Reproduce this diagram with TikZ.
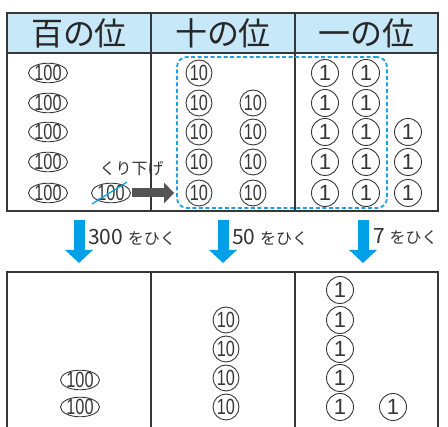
\documentclass[tikz,border=0pt]{standalone}
\usepackage{fontspec}
\setmainfont{Liberation Sans}
\newfontfamily\cjk{Noto Sans CJK JP}
\usetikzlibrary{arrows.meta,shapes.geometric}
\definecolor{hdrblue}{RGB}{199,232,248}
\definecolor{cyanb}{RGB}{0,160,233}
\definecolor{dashb}{RGB}{30,160,225}
\definecolor{lineg}{RGB}{55,55,55}
\definecolor{arrg}{RGB}{85,85,85}
\newcommand\cn[1]{\scalebox{0.74}[1]{#1}}
\newcommand\kanaf{\cjk\fontsize{16}{16}\selectfont}
\begin{document}
\begin{tikzpicture}[x=1pt,y=-1pt,
  tbl/.style={draw=lineg, line width=1.3pt},
  coinfont/.style={font=\fontsize{22}{22}\selectfont, text=lineg},
  hund/.style={rectangle, minimum width=39pt, minimum height=19pt, inner sep=0pt, coinfont,
    append after command={\pgfextra{\draw[draw=lineg, line width=0.9pt] (\tikzlastnode.center) ellipse [x radius=19.5pt, y radius=9.8pt];}}},
  ten/.style={circle, draw=lineg, line width=0.9pt, minimum size=26pt, inner sep=-3pt, coinfont},
  one/.style={circle, draw=lineg, line width=0.9pt, minimum size=27pt, inner sep=-3pt, coinfont},
  hdr/.style={font=\cjk\fontsize{32}{32}\selectfont, text=black!85, inner sep=0pt},
  lab/.style={anchor=west, inner sep=0pt, text=black!80, font=\cjk\fontsize{21}{21}\selectfont},
  kana/.style={font=\kanaf},
  bigarrow/.style={draw=cyanb, line width=11pt, -{Triangle[width=27pt,length=13pt]}},
  darrow/.style={draw=arrg, line width=9pt, -{Triangle[width=20pt,length=10pt]}},
  dbox/.style={draw=dashb, line width=1.8pt, dash pattern=on 4pt off 2.5pt, rounded corners=10pt, minimum width=210pt, minimum height=151pt, inner sep=0pt}
]
\useasboundingbox (0,0) rectangle (448,427);
\clip (0,0) rectangle (448,427);
% top table
\fill[hdrblue] (7,13) rectangle (438,53);
\draw[tbl] (7,13) rectangle (438,211);
\draw[tbl] (7,53) -- (438,53);
\draw[tbl] (151,13) -- (151,211);
\draw[tbl] (295,13) -- (295,211);
\node[hdr] (hd1) at (79,33) {百の位};
\node[hdr] (hd2) at (223,33) {十の位};
\node[hdr] (hd3) at (366.5,33) {一の位};
% hundreds
\foreach \y [count=\i] in {73,103,132,162,193}
  \node[hund] (ha\i) at (48,\y) {\cn{100}};
\node[hund] (hx) at (111,193) {\cn{100}};
\coordinate (xs) at (92,204);
\coordinate (xe) at (127,182);
\draw[cyanb, line width=1.2pt] (xs) -- (xe);
% tens
\foreach \y [count=\i] in {73,103,132,162,193}
  \node[ten] (ta\i) at (199,\y) {\cn{10}};
\foreach \y [count=\i] in {103,132,162,193}
  \node[ten] (tb\i) at (253,\y) {\cn{10}};
% ones
\foreach \y [count=\i] in {73,103,132,162,193}
  \node[one] (oa\i) at (325,\y) {1};
\foreach \y [count=\i] in {73,103,132,162,193}
  \node[one] (ob\i) at (366,\y) {1};
\foreach \y [count=\i] in {132,162,193}
  \node[one] (oc\i) at (408,\y) {1};
% dashed box
\node[dbox] (box) at (282,132.5) {};
% kuri sage
\node[kana, text=black!80, inner sep=0pt] (ks) at (131.5,169) {くり下げ};
\draw[darrow, shorten <=1.5pt, shorten >=2pt] (hx.east) -- (hx.east -| box.west);
% blue arrows
\coordinate (a1s) at (79,220); \coordinate (a1e) at (79,263);
\coordinate (a2s) at (223,220); \coordinate (a2e) at (223,263);
\coordinate (a3s) at (363,220); \coordinate (a3e) at (363,263);
\draw[bigarrow] (a1s) -- (a1e);
\draw[bigarrow] (a2s) -- (a2e);
\draw[bigarrow] (a3s) -- (a3e);
\node[lab] (l1) at (88,237) {300 {\kanaf をひく}};
\node[lab] (l2) at (232,237) {50 {\kanaf をひく}};
\node[lab] (l3) at (373,237) {7 {\kanaf をひく}};
% bottom table
\draw[tbl] (7,440) -- (7,272) -- (438,272) -- (438,440);
\draw[tbl] (151,272) -- (151,440);
\draw[tbl] (295,272) -- (295,440);
\foreach \y [count=\i] in {380,407}
  \node[hund] (hb\i) at (80,\y) {\cn{100}};
\foreach \y [count=\i] in {320,349,378,407}
  \node[ten] (tc\i) at (226,\y) {\cn{10}};
\foreach \y [count=\i] in {290,320,349,378,407}
  \node[one] (od\i) at (340,\y) {1};
\node[one] (oe1) at (393,407) {1};
\end{tikzpicture}
\end{document}
